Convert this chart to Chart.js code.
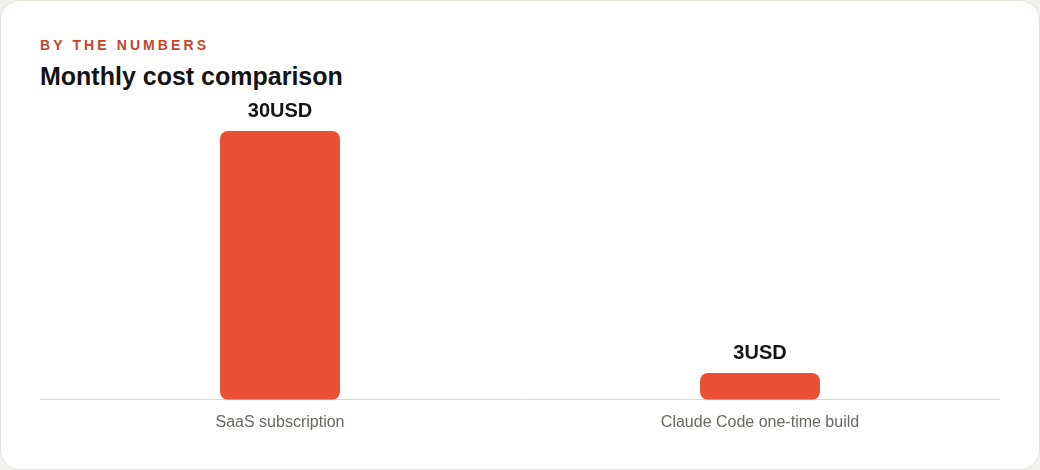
<!DOCTYPE html>
<html>
<head>
<meta charset="utf-8">
<script src="https://cdn.jsdelivr.net/npm/chart.js@4"></script>
<style>
  html, body { margin: 0; padding: 0; width: 1040px; height: 470px; background: #f2f1ed; overflow: hidden; }
  .card { position: absolute; left: 0; top: 0; width: 1040px; height: 470px; box-sizing: border-box;
          background: #ffffff; border: 1px solid #e3e1db; border-radius: 20px; }
  .eyebrow { position: absolute; left: 39px; top: 36px; font-family: "Liberation Sans", Arial, sans-serif;
             font-size: 14px; font-weight: bold; letter-spacing: 3.1px; color: #c4452c; }
  .title { position: absolute; left: 39px; top: 61px; font-family: "Liberation Sans", Arial, sans-serif;
           font-size: 25px; font-weight: bold; color: #141414; }
  .chartbox { position: absolute; left: 39px; top: 83px; width: 960px; height: 361px; }
</style>
</head>
<body>
<div class="card">
  <div class="eyebrow">BY THE NUMBERS</div>
  <div class="title">Monthly cost comparison</div>
  <div class="chartbox"><canvas id="c"></canvas></div>
</div>
<script>
const categories = ["SaaS subscription", "Claude Code one-time build"];
const costValues = [30, 3];
const valueUnit = "USD";

const valueLabels = {
  id: 'valueLabels',
  afterDatasetsDraw(chart) {
    const ctx = chart.ctx;
    const meta = chart.getDatasetMeta(0);
    ctx.save();
    ctx.font = 'bold 20px "Liberation Sans", Arial, sans-serif';
    ctx.fillStyle = '#141414';
    ctx.textAlign = 'center';
    ctx.textBaseline = 'middle';
    meta.data.forEach((bar, i) => {
      ctx.fillText(costValues[i] + valueUnit, bar.x, bar.y - 19);
    });
    ctx.restore();
  }
};

new Chart(document.getElementById('c'), {
  type: 'bar',
  data: {
    labels: categories,
    datasets: [{
      data: costValues,
      backgroundColor: '#e95134',
      borderRadius: 8,
      borderSkipped: false,
      barPercentage: 0.5,
      categoryPercentage: 0.5
    }]
  },
  options: {
    responsive: true,
    maintainAspectRatio: false,
    animation: false,
    layout: { padding: { top: 20, left: 0, right: 0, bottom: 0 } },
    plugins: { legend: { display: false }, tooltip: { enabled: false }, title: { display: false } },
    scales: {
      x: {
        grid: { display: false, drawTicks: false },
        border: { display: true, color: '#dcd9d3', width: 1 },
        ticks: { color: '#6b6660', padding: 13, font: { family: '"Liberation Sans", Arial, sans-serif', size: 16 } }
      },
      y: {
        display: false,
        min: 0,
        max: 33
      }
    }
  },
  plugins: [valueLabels]
});
</script>
</body>
</html>
